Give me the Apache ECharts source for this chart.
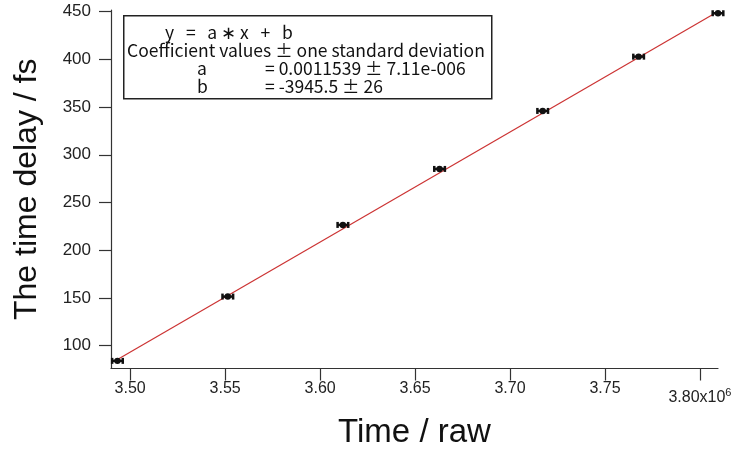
<!DOCTYPE html>
<html>
<head>
<meta charset="utf-8">
<script src="https://cdn.jsdelivr.net/npm/echarts@6/dist/echarts.min.js"></script>
<style>
    html, body {margin: 0; padding: 0; background: #fff;}
    #main {width: 737px; height: 450px;}
</style>
</head>
<body>
<div id="main"></div>
<script>
// 测量点: Time / raw 与 time delay / fs
var timeRaw = [3493300, 3551400, 3612000, 3662900, 3717200, 3767700, 3809500];
var timeDelay = [84.0, 151.4, 226.5, 285.2, 346.0, 402.9, 448.4];
var timeErr = [2800, 2800, 2800, 2800, 2800, 2800, 2800];

// 拟合直线的两端
var fitX = [3493300, 3809500];
var fitY = [85.4, 450.3];

var xTicks = [3500000, 3550000, 3600000, 3650000, 3700000, 3750000, 3800000];
var yTicks = [100, 150, 200, 250, 300, 350, 400, 450];

// 拟合结果文字框
var fitLines = [
    'y   =   a \u2217 x   +   b',
    'Coefficient values \u00b1 one standard deviation',
    'a',
    '= 0.0011539 \u00b1 7.11e-006',
    'b',
    '= -3945.5 \u00b1 26'
];

var chart = echarts.init(document.getElementById('main'));

var pointData = [];
for (var i = 0; i < timeRaw.length; i++) {
    pointData.push([timeRaw[i], timeDelay[i], timeErr[i]]);
}
var fitData = [];
for (var j = 0; j < fitX.length; j++) {
    fitData.push([fitX[j], fitY[j]]);
}

function renderErrorBar(params, api) {
    var x = api.value(0), y = api.value(1), e = api.value(2);
    var left = api.coord([x - e, y]);
    var right = api.coord([x + e, y]);
    var mid = api.coord([x, y]);
    var cap = 3;
    var style = {stroke: '#111', lineWidth: 2.5, fill: null};
    return {
        type: 'group',
        children: [
            {type: 'line', shape: {x1: left[0], y1: left[1], x2: right[0], y2: right[1]}, style: style},
            {type: 'line', shape: {x1: left[0], y1: left[1] - cap, x2: left[0], y2: left[1] + cap}, style: style},
            {type: 'line', shape: {x1: right[0], y1: right[1] - cap, x2: right[0], y2: right[1] + cap}, style: style},
            {type: 'circle', shape: {cx: mid[0], cy: mid[1], r: 3.2}, style: {fill: '#111'}}
        ]
    };
}

var labelFont = 'Liberation Sans, Arial, sans-serif';
var boxFont = '"Noto Sans CJK JP", "Liberation Sans", sans-serif';
var boxTextFont = '17.5px ' + boxFont;

var option = {
    backgroundColor: '#fff',
    animation: false,
    grid: {left: 111, right: 19, top: 10, bottom: 81.5, outerBoundsMode: 'none'},
    xAxis: {
        type: 'value',
        min: 3489900,
        max: 3809500,
        name: 'Time / raw',
        nameLocation: 'middle',
        nameGap: 48,
        nameTextStyle: {fontSize: 33, color: '#111', fontFamily: labelFont},
        splitLine: {show: false},
        axisLine: {lineStyle: {color: '#333', width: 1.2}},
        axisTick: {customValues: xTicks, length: 12, lineStyle: {color: '#333', width: 1.2}},
        axisLabel: {
            customValues: xTicks,
            margin: 12,
            fontSize: 16,
            color: '#222',
            fontFamily: labelFont,
            formatter: function (v) {
                var s = (v / 1e6).toFixed(2);
                if (v === 3800000) {
                    return '{m|' + s + 'x10}{s|6}';
                }
                return s;
            },
            rich: {
                m: {fontSize: 16, lineHeight: 16, padding: [18, 0, 0, 0], color: '#222', fontFamily: labelFont},
                s: {fontSize: 11, lineHeight: 11, padding: [8, 0, 0, 0], color: '#222', fontFamily: labelFont}
            }
        }
    },
    yAxis: {
        type: 'value',
        min: 76,
        max: 451.8,
        name: 'The time delay / fs',
        nameLocation: 'middle',
        nameGap: 68,
        nameTextStyle: {fontSize: 32, color: '#111', fontFamily: labelFont},
        splitLine: {show: false},
        axisLine: {show: true, lineStyle: {color: '#333', width: 1.2}},
        axisTick: {show: true, customValues: yTicks, length: 12, lineStyle: {color: '#333', width: 1.2}},
        axisLabel: {customValues: yTicks, margin: 20, fontSize: 17, color: '#222', fontFamily: labelFont}
    },
    graphic: [
        {type: 'rect', left: 123, top: 15, shape: {width: 368, height: 83}, style: {fill: '#fff', stroke: '#222', lineWidth: 1.5}, z: 10},
        {type: 'text', x: 165, y: 32, style: {text: fitLines[0], font: boxTextFont, fill: '#111', verticalAlign: 'middle'}, z: 11},
        {type: 'text', x: 127, y: 50, style: {text: fitLines[1], font: boxTextFont, fill: '#111', verticalAlign: 'middle'}, z: 11},
        {type: 'text', x: 197, y: 68, style: {text: fitLines[2], font: boxTextFont, fill: '#111', verticalAlign: 'middle'}, z: 11},
        {type: 'text', x: 265, y: 68, style: {text: fitLines[3], font: boxTextFont, fill: '#111', verticalAlign: 'middle'}, z: 11},
        {type: 'text', x: 197, y: 86, style: {text: fitLines[4], font: boxTextFont, fill: '#111', verticalAlign: 'middle'}, z: 11},
        {type: 'text', x: 265, y: 86, style: {text: fitLines[5], font: boxTextFont, fill: '#111', verticalAlign: 'middle'}, z: 11}
    ],
    series: [
        {
            name: 'fit',
            type: 'line',
            data: fitData,
            symbol: 'none',
            lineStyle: {color: '#cc3333', width: 1.2},
            z: 2
        },
        {
            name: 'points',
            type: 'custom',
            renderItem: renderErrorBar,
            data: pointData,
            z: 3
        }
    ]
};

chart.setOption(option);
</script>
</body>
</html>
